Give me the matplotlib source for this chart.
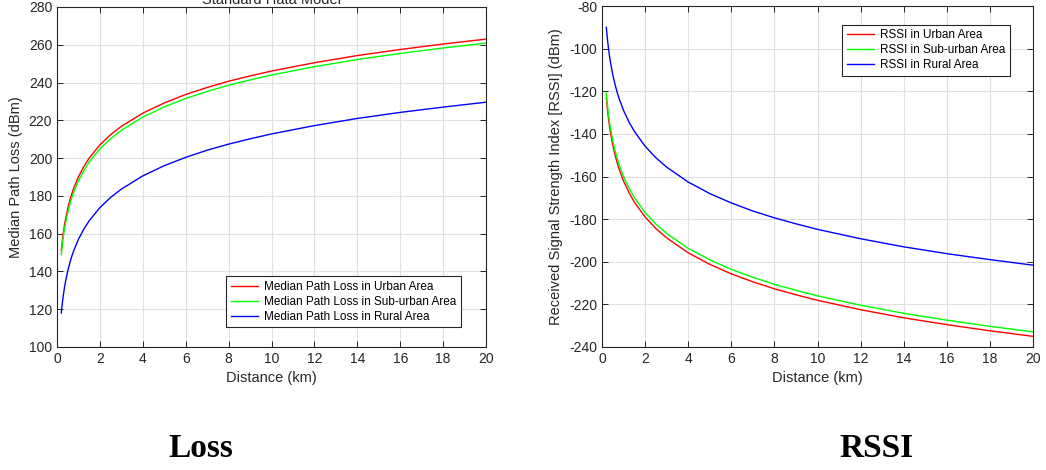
import matplotlib
matplotlib.use("Agg")
import matplotlib.pyplot as plt

# distances (km) and values
distance_km = [0.2, 0.25, 0.3, 0.35, 0.4, 0.5, 0.6, 0.7, 0.8, 1.0, 1.25, 1.5,
               2, 2.5, 3, 4, 5, 6, 7, 8, 9, 10, 12, 14, 16, 18, 20]

loss_urban = [151.0, 156.4, 160.8, 164.6, 167.8, 173.2, 177.7, 181.4, 184.7,
              190.1, 195.5, 200.0, 207.0, 212.4, 216.8, 223.8, 229.2, 233.7,
              237.4, 240.7, 243.5, 246.1, 250.5, 254.3, 257.5, 260.4, 263.0]
loss_suburban = [148.9, 154.3, 158.7, 162.5, 165.7, 171.1, 175.6, 179.3, 182.6,
                 188.0, 193.4, 197.9, 204.9, 210.3, 214.7, 221.7, 227.1, 231.6,
                 235.3, 238.6, 241.4, 244.0, 248.4, 252.2, 255.4, 258.3, 260.9]
loss_rural = [118.0, 123.4, 127.8, 131.6, 134.8, 140.2, 144.6, 148.4, 151.6,
              157.0, 162.4, 166.8, 173.8, 179.2, 183.6, 190.6, 196.0, 200.4,
              204.2, 207.4, 210.2, 212.8, 217.2, 221.0, 224.2, 227.0, 229.6]

rssi_urban = [-123.0, -128.4, -132.8, -136.6, -139.8, -145.2, -149.7, -153.4,
              -156.7, -162.1, -167.5, -172.0, -179.0, -184.4, -188.8, -195.8,
              -201.2, -205.7, -209.4, -212.7, -215.5, -218.1, -222.5, -226.3,
              -229.5, -232.4, -235.0]
rssi_suburban = [-120.9, -126.3, -130.7, -134.5, -137.7, -143.1, -147.6, -151.3,
                 -154.6, -160.0, -165.4, -169.9, -176.9, -182.3, -186.7, -193.7,
                 -199.1, -203.6, -207.3, -210.6, -213.4, -216.0, -220.4, -224.2,
                 -227.4, -230.3, -232.9]
rssi_rural = [-90.0, -95.4, -99.8, -103.6, -106.8, -112.2, -116.6, -120.4,
              -123.6, -129.0, -134.4, -138.8, -145.8, -151.2, -155.6, -162.6,
              -168.0, -172.4, -176.2, -179.4, -182.2, -184.8, -189.2, -193.0,
              -196.2, -199.0, -201.6]

loss_labels = ["Median Path Loss in Urban Area",
               "Median Path Loss in Sub-urban Area",
               "Median Path Loss in Rural Area"]
rssi_labels = ["RSSI in Urban Area", "RSSI in Sub-urban Area", "RSSI in Rural Area"]
colors = ["#ff0000", "#00ff00", "#0000ff"]

AX_COLOR = "#262626"
plt.rcParams["font.family"] = ["Liberation Sans", "DejaVu Sans"]
plt.rcParams["axes.unicode_minus"] = False


def style_axes(ax):
    ax.grid(True, color="#e0e0e0", linewidth=0.8)
    ax.set_axisbelow(True)
    ax.tick_params(direction="in", top=True, right=True, length=4,
                   labelsize=10, colors=AX_COLOR, width=0.7)
    for sp in ax.spines.values():
        sp.set_color(AX_COLOR)
        sp.set_linewidth(0.8)
    ax.set_xlim(0, 20)
    ax.set_xticks(range(0, 21, 2))
    ax.set_xlabel("Distance (km)", fontsize=10.5, color=AX_COLOR)


def add_legend(ax, loc, anchor):
    leg = ax.legend(loc=loc, bbox_to_anchor=anchor, fontsize=8.5,
                    fancybox=False, framealpha=1, edgecolor=AX_COLOR,
                    handlelength=2.3, handletextpad=0.5, borderpad=0.4,
                    labelspacing=0.25)
    leg.get_frame().set_linewidth(0.8)


fig = plt.figure(figsize=(10.46, 4.70), dpi=100)
ax1 = fig.add_axes([57 / 1046, 123 / 470, 429 / 1046, 340 / 470])
ax2 = fig.add_axes([602 / 1046, 123 / 470, 431 / 1046, 341 / 470])

for ys, lab, c in zip([loss_urban, loss_suburban, loss_rural], loss_labels, colors):
    ax1.plot(distance_km, ys, color=c, linewidth=1.0, label=lab)
style_axes(ax1)
ax1.set_ylim(100, 280)
ax1.set_yticks(range(100, 281, 20))
ax1.set_ylabel("Median Path Loss (dBm)", fontsize=10.5, color=AX_COLOR)
add_legend(ax1, "lower right", (0.955, 0.04))

for ys, lab, c in zip([rssi_urban, rssi_suburban, rssi_rural], rssi_labels, colors):
    ax2.plot(distance_km, ys, color=c, linewidth=1.0, label=lab)
style_axes(ax2)
ax2.set_ylim(-240, -80)
ax2.set_yticks(range(-240, -79, 20))
ax2.set_ylabel("Received Signal Strength Index [RSSI] (dBm)", fontsize=10.5,
               color=AX_COLOR)
add_legend(ax2, "upper right", (0.96, 0.963))

# title of the left plot, cut off by the top edge in the reference
fig.text(271 / 1046, 466 / 470, "Standard Hata Model", ha="center",
         va="baseline", fontsize=10.5, color=AX_COLOR)

fig.text(201 / 1046, 13 / 470, "Loss", ha="center", va="baseline",
         fontsize=24, fontweight="bold", family="Liberation Serif")
fig.text(877 / 1046, 13 / 470, "RSSI", ha="center", va="baseline",
         fontsize=24, fontweight="bold", family="Liberation Serif")

fig.savefig("out.png", dpi=100)
